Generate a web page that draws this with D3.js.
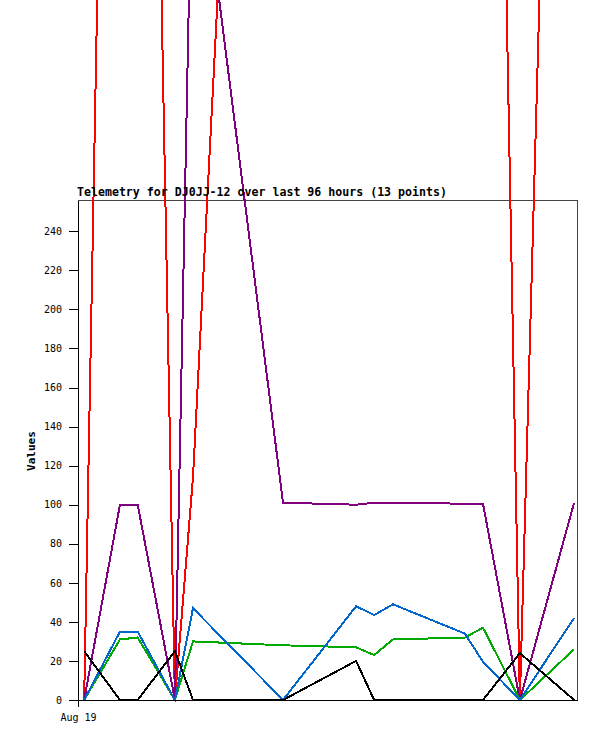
<!DOCTYPE html>
<html>
<head>
<meta charset="utf-8">
<script src="https://cdn.jsdelivr.net/npm/d3@7"></script>
<style>
  body { margin: 0; background: #fff; }
  svg { display: block; }
  .tick text { font-family: "DejaVu Sans Mono", monospace; font-size: 10px; fill: #000; }
</style>
</head>
<body>
<div id="chart"></div>
<script>
  // timestamps of the 13 telemetry packets
  var times = [
    '2023-08-19 00:17', '2023-08-19 01:56', '2023-08-19 02:45', '2023-08-19 04:28',
    '2023-08-19 05:18', '2023-08-19 09:27', '2023-08-19 12:49', '2023-08-19 13:39',
    '2023-08-19 14:31', '2023-08-19 17:50', '2023-08-19 18:40', '2023-08-19 20:22',
    '2023-08-19 22:52'
  ];
  var redValues    = [0, 985, 1000, 0, 114, 1012, 1005, 1002, 1008, 1001, 990, 0, 995];
  var purpleValues = [0, 100, 100, 0, 464, 101, 100, 101, 101, 100.5, 100.5, 0, 101];
  var greenValues  = [0, 31, 32, 0, 30, 28, 27, 23, 31, 32, 37, 0, 26];
  var blueValues   = [0, 35, 35, 0, 47, 0, 48, 43.5, 49, 34, 19.5, 0, 42];
  var blackValues  = [25, 0, 0, 25, 0, 0, 20, 0, 0, 0, 0, 24, 0];
  var yTicks = [0, 20, 40, 60, 80, 100, 120, 140, 160, 180, 200, 220, 240];
  var xStart = '2023-08-19 00:00', xEnd = '2023-08-19 23:00';

  var width = 597, height = 741;
  var margin = {top: 200, right: 20, bottom: 41, left: 78};
  var parse = d3.timeParse('%Y-%m-%d %H:%M');

  var svg = d3.select('#chart').append('svg')
      .attr('width', width).attr('height', height);

  var x = d3.scaleTime()
      .domain([parse(xStart), parse(xEnd)])
      .range([margin.left, width - margin.right]);
  var y = d3.scaleLinear()
      .domain([0, 256])
      .range([height - margin.bottom, margin.top]);

  // frame
  svg.append('rect')
      .attr('x', margin.left + 0.5).attr('y', margin.top + 0.5)
      .attr('width', width - margin.right - margin.left)
      .attr('height', height - margin.bottom - margin.top)
      .attr('fill', 'none').attr('stroke', '#444');

  var series = [
    {values: redValues, color: '#ff0000'},
    {values: purpleValues, color: '#800080'},
    {values: greenValues, color: '#00aa00'},
    {values: blueValues, color: '#0066cc'},
    {values: blackValues, color: '#000000'}
  ];

  var line = d3.line()
      .x(function(d) { return x(parse(d[0])); })
      .y(function(d) { return y(d[1]); });

  series.forEach(function(s) {
    svg.append('path')
        .datum(d3.zip(times, s.values))
        .attr('d', line)
        .attr('fill', 'none')
        .attr('stroke', s.color)
        .attr('stroke-width', 2)
        .attr('shape-rendering', 'crispEdges');
  });

  // axes
  var yAxis = svg.append('g')
      .attr('transform', 'translate(' + margin.left + ',0)')
      .call(d3.axisLeft(y).tickValues(yTicks).tickSize(9).tickPadding(7).tickSizeOuter(0));
  yAxis.select('.domain').attr('stroke', '#000').attr('shape-rendering', 'crispEdges');
  yAxis.selectAll('line').attr('shape-rendering', 'crispEdges');

  var xAxis = svg.append('g')
      .attr('transform', 'translate(0,' + (height - margin.bottom) + ')')
      .call(d3.axisBottom(x).tickValues([parse(xStart)])
        .tickFormat(d3.timeFormat('%b %d')).tickSize(7).tickPadding(7).tickSizeOuter(0));
  xAxis.select('.domain').attr('stroke', '#000').attr('shape-rendering', 'crispEdges');
  xAxis.selectAll('line').attr('shape-rendering', 'crispEdges');

  svg.append('text')
      .attr('x', 77).attr('y', 196)
      .attr('font-family', 'DejaVu Sans Mono, monospace')
      .attr('font-size', '11.6px').attr('font-weight', 'bold')
      .text('Telemetry for DJ0JJ-12 over last 96 hours (13 points)');

  svg.append('text')
      .attr('transform', 'translate(35,451) rotate(-90)')
      .attr('text-anchor', 'middle')
      .attr('font-family', 'DejaVu Sans Mono, monospace')
      .attr('font-size', '11px').attr('font-weight', 'bold')
      .text('Values');
</script>
</body>
</html>
